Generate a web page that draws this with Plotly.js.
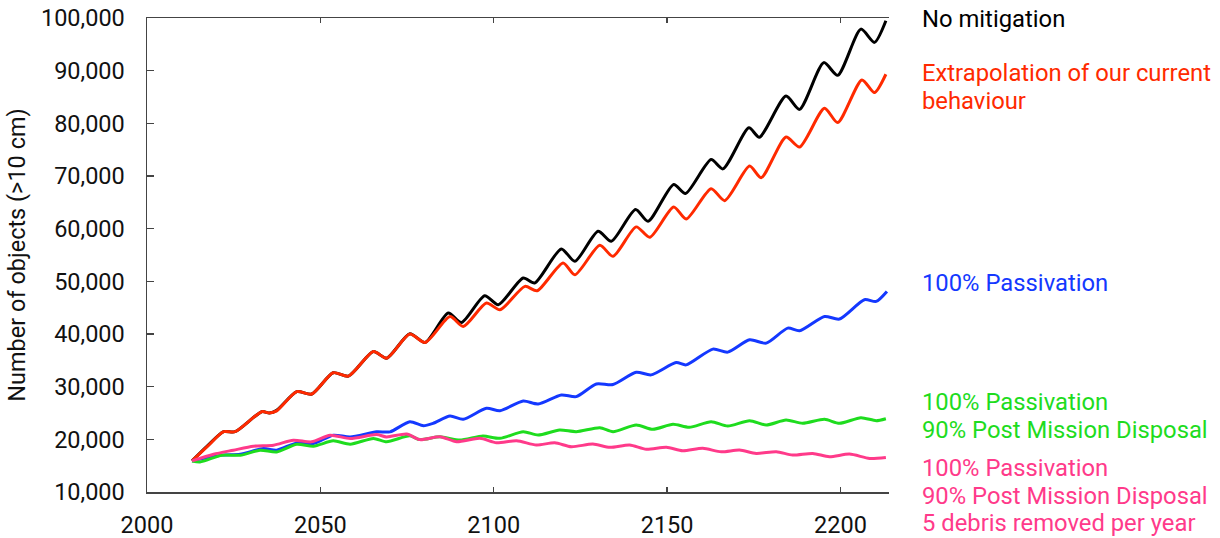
<!DOCTYPE html>
<html>
<head>
<meta charset="utf-8">
<script src="https://cdn.plot.ly/plotly-3.0.1.min.js"></script>
<style>html,body{margin:0;padding:0;background:#fff;}#chart{width:1220px;height:538px;}</style>
</head>
<body>
<div id="chart"></div>
<script>
// Years and values (peaks and troughs of each curve)
const noMitYears = [2013, 2017.5, 2022.1, 2025.4, 2033.1, 2035.3, 2037.4, 2043.2, 2047.5, 2053.7, 2058.1, 2065.3, 2069.1, 2075.8, 2080.2, 2086.9, 2090.7, 2097.4, 2101.3, 2108.5, 2111.8, 2119.5, 2123.4, 2130.1, 2133.9, 2140.9, 2144.5, 2151.9, 2155.3, 2162.7, 2166.1, 2173.6, 2176.6, 2184.3, 2188.2, 2195.2, 2199.2, 2205.9, 2209.8, 2213.1];
const noMitValues = [15900, 18800, 21450, 21450, 25250, 25000, 25500, 29050, 28600, 32650, 32000, 36670, 35400, 40040, 38380, 43980, 42190, 47270, 45560, 50640, 49690, 56160, 53800, 59510, 57600, 63640, 61400, 68400, 66660, 73120, 71350, 79150, 77370, 85180, 82650, 91530, 89110, 97890, 95370, 99470];

const currentYears = [2013, 2017.5, 2022.1, 2025.4, 2033.1, 2035.3, 2037.4, 2043.2, 2047.5, 2053.7, 2058.1, 2065.3, 2069.1, 2075.8, 2080.2, 2087.4, 2091.2, 2097.9, 2101.8, 2109.0, 2112.5, 2120.0, 2123.4, 2130.6, 2134.4, 2141.1, 2145.0, 2151.9, 2155.5, 2162.7, 2166.6, 2173.8, 2177.1, 2184.3, 2188.2, 2195.4, 2199.2, 2206.2, 2209.8, 2213.1];
const currentValues = [15900, 18700, 21450, 21450, 25250, 25000, 25400, 29050, 28600, 32650, 32000, 36670, 35400, 40000, 38380, 43330, 41430, 45880, 44600, 49040, 48200, 53490, 51250, 56840, 54750, 60340, 58360, 64120, 61840, 67600, 65320, 71880, 69670, 77390, 75490, 82860, 80140, 88240, 85840, 89320];

const passYears = [2013, 2021.6, 2026.9, 2033.6, 2037.4, 2043.2, 2048.0, 2053.7, 2058.6, 2066.2, 2070.1, 2075.8, 2079.7, 2082.5, 2087.4, 2091.2, 2097.9, 2101.8, 2108.5, 2112.8, 2119.5, 2123.8, 2129.6, 2134.4, 2141.1, 2145.4, 2152.6, 2155.5, 2163.2, 2167.5, 2173.8, 2178.6, 2184.8, 2188.2, 2195.4, 2199.7, 2206.9, 2210.3, 2213.4];
const passValues = [15900, 17000, 17170, 18260, 17940, 19330, 19210, 20780, 20460, 21420, 21420, 23340, 22590, 23040, 24430, 23800, 25900, 25440, 27290, 26720, 28430, 28110, 30520, 30400, 32750, 32240, 34580, 34140, 37130, 36560, 38900, 38270, 41120, 40610, 43330, 42840, 46510, 46190, 48090];

const pmdYears = [2013, 2015.3, 2021.6, 2026.9, 2032.6, 2037.4, 2043.2, 2048.0, 2053.7, 2058.6, 2065.3, 2069.1, 2075.8, 2078.7, 2084.5, 2090.2, 2096.9, 2101.8, 2108.5, 2112.8, 2119.0, 2123.8, 2130.6, 2134.4, 2141.1, 2145.9, 2151.7, 2156.4, 2162.7, 2167.5, 2173.8, 2178.6, 2184.3, 2189.1, 2195.4, 2199.7, 2205.9, 2210.3, 2213.1];
const pmdValues = [15900, 15710, 16980, 16980, 17940, 17610, 19080, 18700, 19710, 19080, 20180, 19540, 20660, 19950, 20490, 19870, 20630, 20190, 21450, 20820, 21770, 21450, 22210, 21450, 22720, 21900, 22850, 22280, 23350, 22530, 23540, 22720, 23670, 23040, 23800, 23040, 24110, 23540, 23920];

const adrYears = [2013, 2019.2, 2024.9, 2030.7, 2036.5, 2042.2, 2047.5, 2052.8, 2058.6, 2066.2, 2069.1, 2074.9, 2078.7, 2084.5, 2089.3, 2096.0, 2100.8, 2106.6, 2112.3, 2117.6, 2122.4, 2128.6, 2133.5, 2139.2, 2144.0, 2149.8, 2154.5, 2160.3, 2165.6, 2170.9, 2175.7, 2181.5, 2186.2, 2192.0, 2196.8, 2202.6, 2208.4, 2213.1];
const adrValues = [15900, 17170, 17940, 18700, 18890, 19840, 19520, 20780, 20150, 20910, 20460, 21010, 19950, 20490, 19540, 20190, 19350, 19730, 18920, 19350, 18590, 19110, 18480, 18920, 18100, 18480, 17830, 18290, 17640, 17960, 17330, 17640, 17010, 17330, 16690, 17200, 16380, 16570];

const yTickValues = [10000, 20000, 30000, 40000, 50000, 60000, 70000, 80000, 90000, 100000];
const xTickValues = [2000, 2050, 2100, 2150, 2200];

const labelLines = [
  {text: "No mitigation", color: "#000000", y: 19},
  {text: "Extrapolation of our current", color: "#ff2a00", y: 73},
  {text: "behaviour", color: "#ff2a00", y: 101},
  {text: "100% Passivation", color: "#1438ff", y: 283},
  {text: "100% Passivation", color: "#1edc1e", y: 402},
  {text: "90% Post Mission Disposal", color: "#1edc1e", y: 430},
  {text: "100% Passivation", color: "#ff3a8a", y: 468},
  {text: "90% Post Mission Disposal", color: "#ff3a8a", y: 495.5},
  {text: "5 debris removed per year", color: "#ff3a8a", y: 523}
];

const W = 1220, H = 538;
const M = {l: 147, r: 331, t: 18, b: 46};
const plotH = H - M.t - M.b;
const plotW = W - M.l - M.r;

function line(x, y, color) {
  return {x: x, y: y, type: 'scatter', mode: 'lines',
    line: {color: color, width: 3, shape: 'spline', smoothing: 0.7},
    hoverinfo: 'skip', showlegend: false};
}

const traces = [
  line(noMitYears, noMitValues, '#000000'),
  line(currentYears, currentValues, '#ff2a00'),
  line(passYears, passValues, '#1438ff'),
  line(pmdYears, pmdValues, '#1edc1e'),
  line(adrYears, adrValues, '#ff3a8a')
];

const annotations = labelLines.map(l => ({
  xref: 'paper', yref: 'paper',
  x: (921 - M.l) / plotW, y: (H - M.b - l.y) / plotH,
  xanchor: 'left', yanchor: 'middle', borderpad: 0,
  text: l.text, showarrow: false,
  font: {family: 'Roboto, sans-serif', size: 23.8, color: l.color}
}));

const layout = {
  width: W, height: H,
  margin: M,
  paper_bgcolor: '#ffffff', plot_bgcolor: '#ffffff',
  font: {family: 'Roboto, sans-serif', size: 23, color: '#111111'},
  showlegend: false,
  xaxis: {
    range: [2000, 2214], tickvals: xTickValues, ticktext: xTickValues.map(String),
    showgrid: false, zeroline: false,
    showline: true, linecolor: '#444444', linewidth: 1.5,
    mirror: 'ticks', ticks: 'inside', ticklen: 5, tickcolor: '#444444', tickwidth: 1.5,
    ticklabelstandoff: 11,
    tickfont: {family: 'Roboto, sans-serif', size: 23.5, color: '#111111'}
  },
  yaxis: {
    range: [10000, 100000], tickvals: yTickValues, tickformat: ',d',
    showgrid: false, zeroline: false,
    showline: true, linecolor: '#444444', linewidth: 1.5,
    ticks: 'inside', ticklen: 7, tickcolor: '#444444', tickwidth: 1.5,
    ticklabelstandoff: 16,
    tickfont: {family: 'Roboto, sans-serif', size: 23.5, color: '#111111'},
    title: {text: 'Number of objects (>10 cm)', standoff: 8,
      font: {family: 'Roboto, sans-serif', size: 23.5, color: '#111111'}}
  },
  annotations: annotations
};

Plotly.newPlot('chart', traces, layout, {staticPlot: true, displayModeBar: false});
</script>
</body>
</html>
